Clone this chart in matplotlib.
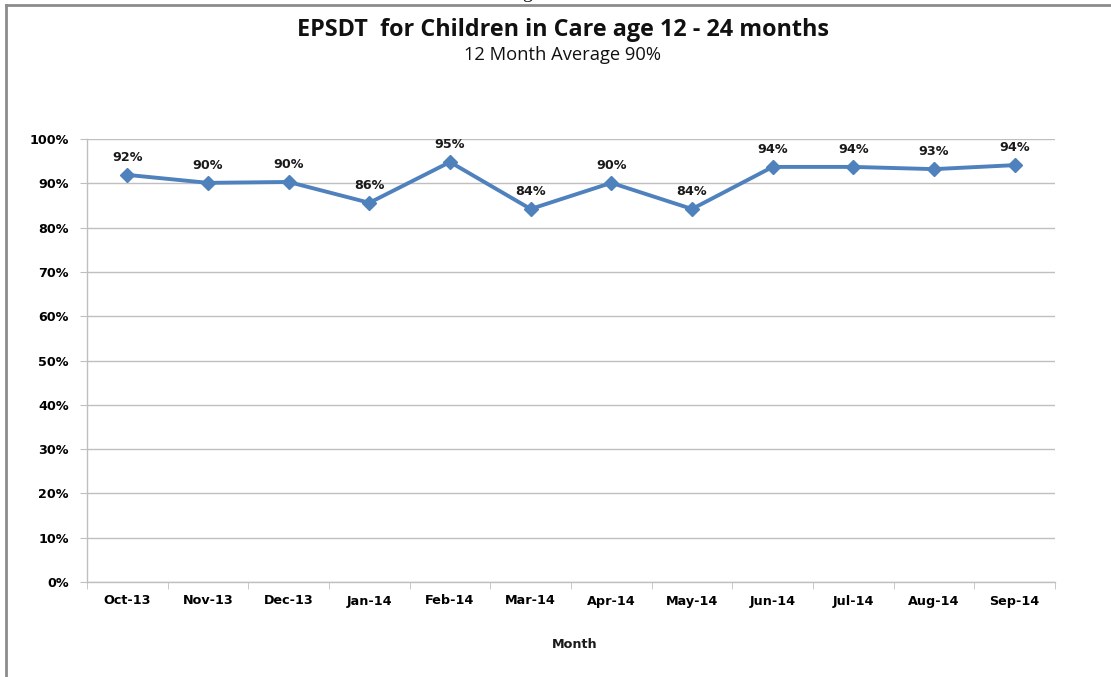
import matplotlib
matplotlib.use("Agg")
import matplotlib.pyplot as plt
from matplotlib.lines import Line2D

months = ["Oct-13", "Nov-13", "Dec-13", "Jan-14", "Feb-14", "Mar-14",
          "Apr-14", "May-14", "Jun-14", "Jul-14", "Aug-14", "Sep-14"]
rates = [0.919, 0.901, 0.903, 0.856, 0.948, 0.842,
         0.901, 0.842, 0.937, 0.937, 0.932, 0.941]
y_ticks = [0.0, 0.1, 0.2, 0.3, 0.4, 0.5, 0.6, 0.7, 0.8, 0.9, 1.0]

title = "EPSDT  for Children in Care age 12 - 24 months"
subtitle = "12 Month Average 90%"
x_label = "Month"

W, H = 1111, 677
fig = plt.figure(figsize=(W / 100, H / 100), dpi=100)

ax = fig.add_axes([87 / W, 1 - 582 / H, (1055 - 87) / W, (582 - 139) / H])

grid_col = "#bfbfbf"
line_col = "#4f81bd"
lab_font = {"family": "DejaVu Sans", "weight": "bold", "size": 9.2}

x = list(range(len(months)))
ax.plot(x, rates, color=line_col, lw=2.8, marker="D", markersize=7.5,
        markerfacecolor=line_col, markeredgecolor=line_col, zorder=3,
        solid_joinstyle="round")

for xi, v in zip(x, rates):
    ax.annotate(f"{round(v * 100):.0f}%", (xi, v), xytext=(0, 8),
                textcoords="offset points", ha="center", va="bottom",
                color="#1a1a1a", **lab_font)

ax.set_xlim(-0.5, len(months) - 0.5)
ax.set_ylim(0, 1)
ax.set_yticks(y_ticks)
ax.set_yticklabels([f"{int(round(t * 100))}%" for t in y_ticks], **lab_font)
ax.set_xticks(x)
ax.set_xticklabels(months, **lab_font)
ax.set_xticks([i - 0.5 for i in range(len(months) + 1)], minor=True)
ax.tick_params(axis="x", which="major", length=0, pad=9)
ax.tick_params(axis="x", which="minor", length=5, color=grid_col, direction="out")
ax.tick_params(axis="y", length=5, color=grid_col, direction="out", pad=8)

ax.grid(axis="y", color=grid_col, lw=1.0)
ax.set_axisbelow(True)
for s in ["top", "right"]:
    ax.spines[s].set_visible(False)
for s in ["left", "bottom"]:
    ax.spines[s].set_color(grid_col)
    ax.spines[s].set_linewidth(1.0)

fig.text(563 / W, 1 - 30 / H, title, ha="center", va="center",
         family="Open Sans", weight="bold", size=16.8, color="#111111")
fig.text(563 / W, 1 - 55 / H, subtitle, ha="center", va="center",
         family="Open Sans", size=13.2, color="#111111")
fig.text(575 / W, 1 - 644 / H, x_label, ha="center", va="center",
         color="#1a1a1a", **lab_font)

# outer frame (left and top edges) and clipped caption fragment above it
fig.add_artist(Line2D([5.5 / W, 5.5 / W], [0, 1 - 5 / H], transform=fig.transFigure,
                      color="#8c8c8c", lw=2))
fig.add_artist(Line2D([5.5 / W, 1], [1 - 5 / H, 1 - 5 / H], transform=fig.transFigure,
                      color="#8c8c8c", lw=2))
fig.text(527 / W, 1 + 1.5 / H, "g", ha="center", va="baseline",
         family="Liberation Serif", size=14, color="#111111")

fig.savefig("out.png", dpi=100, facecolor="white")
